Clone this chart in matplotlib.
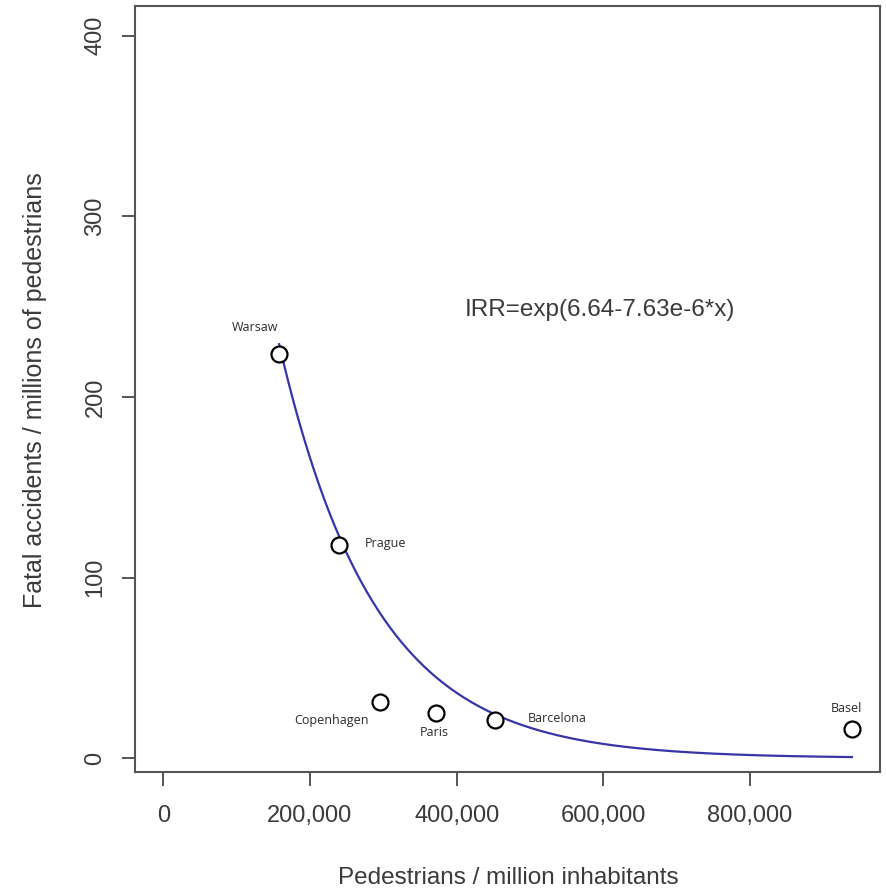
import numpy as np
import matplotlib
matplotlib.use("Agg")
import matplotlib.pyplot as plt

# ---- data ----
cities = ["Warsaw", "Prague", "Copenhagen", "Paris", "Barcelona", "Basel"]
pedestrians = [158000, 240000, 296000, 372000, 452000, 939000]
fatal = [224, 118, 31, 25, 21, 16]

# fitted model IRR = exp(b0 + b1 * x)
b0 = 6.64
b1 = -7.63e-6

x_ticks = [0, 200000, 400000, 600000, 800000]
x_tick_labels = ["0", "200,000", "400,000", "600,000", "800,000"]
y_ticks = [0, 100, 200, 300, 400]
y_tick_labels = ["0", "100", "200", "300", "400"]

# label offsets (pixels) relative to each point
label_offsets = {
    "Warsaw": (-24, 26),
    "Prague": (46, 2),
    "Copenhagen": (-49, -18),
    "Paris": (-2, -20),
    "Barcelona": (62, 2),
    "Basel": (-5, 21),
}

W, H, DPI = 887, 893, 100
fig = plt.figure(figsize=(W / DPI, H / DPI), dpi=DPI)
ax = fig.add_axes([135 / W, 1 - 771.5 / H, (880 - 135) / W, (771.5 - 5.7) / H])

axis_col = "#555555"
text_col = "#3a3a3a"
font_main = "Liberation Sans"

# fitted curve
xc = np.linspace(min(pedestrians), max(pedestrians), 400)
ax.plot(xc, np.exp(b0 + b1 * xc), color="#3535a8", lw=1.6, zorder=2)

# points
ax.plot(pedestrians, fatal, linestyle="none", marker="o", markersize=11.5,
        markerfacecolor="white", markeredgecolor="black", markeredgewidth=1.6, zorder=3)

for c, xv, yv in zip(cities, pedestrians, fatal):
    dx, dy = label_offsets[c]
    ax.annotate(c, (xv, yv), xytext=(dx, dy), textcoords="offset pixels",
                ha="center", va="center", fontsize=9, family="Open Sans",
                color="#2a2a2a")

ax.text(596000, 248, "IRR=exp(6.64-7.63e-6*x)", ha="center", va="center",
        fontsize=17.5, family=font_main, color=text_col)

ax.set_xlim(-38600, 977300)
ax.set_ylim(-7.4, 416.6)

ax.set_xticks(x_ticks)
ax.set_xticklabels(x_tick_labels, family=font_main, fontsize=17, color=text_col)
ax.set_yticks(y_ticks)
ax.set_yticklabels(y_tick_labels, family=font_main, fontsize=17, color=text_col,
                   rotation=90, va="center")

ax.tick_params(axis="x", direction="out", length=10, width=1.4, color=axis_col, pad=14)
ax.tick_params(axis="y", direction="out", length=9.6, width=1.4, color=axis_col, pad=11)

for s in ax.spines.values():
    s.set_color(axis_col)
    s.set_linewidth(1.5)

fig.text(508 / W, 1 - 878 / H, "Pedestrians / million inhabitants", ha="center",
         va="center", fontsize=17.5, family=font_main, color=text_col)
fig.text(35 / W, 1 - 390 / H, "Fatal accidents / millions of pedestrians", ha="center",
         va="center", rotation=90, fontsize=18, family=font_main, color=text_col)

fig.savefig("out.png", dpi=DPI, facecolor="white")
